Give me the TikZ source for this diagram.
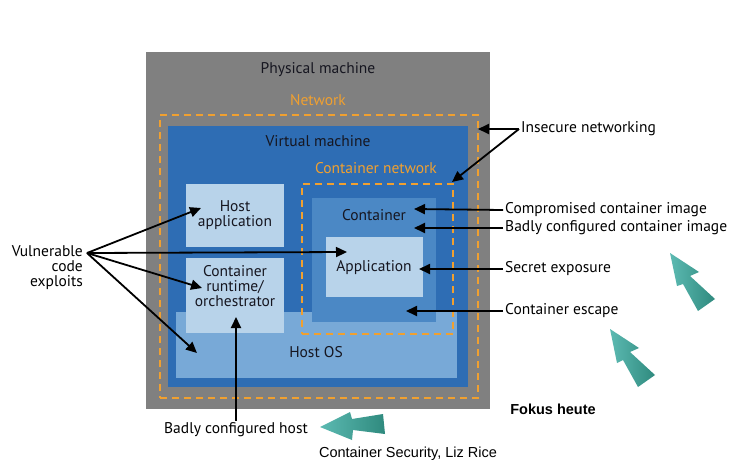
\documentclass[tikz,border=0pt]{standalone}
\usepackage{fontspec}
\setmainfont{PT Sans}
\newfontfamily\arialf{Liberation Sans}
\usetikzlibrary{arrows.meta}
\definecolor{phys}{HTML}{808080}
\definecolor{vmc}{HTML}{2E6DB4}
\definecolor{contc}{HTML}{4B88C5}
\definecolor{hostosc}{HTML}{78A9D7}
\definecolor{lightc}{HTML}{B8D3EA}
\definecolor{netc}{HTML}{F0A030}
\definecolor{txtc}{HTML}{161620}
\definecolor{tealA}{HTML}{5CBAB2}
\definecolor{tealB}{HTML}{2F8A7E}
\tikzset{
  box/.style={draw=none, inner sep=0pt, anchor=north west},
  netbox/.style={draw=netc, line width=1.8pt, dash pattern=on 7pt off 5pt, inner sep=0pt, anchor=north west},
  lbl/.style={font=\fontsize{15.5}{17}\selectfont, text=txtc, inner sep=1pt},
  netlbl/.style={font=\fontsize{15.5}{17}\selectfont, text=netc, inner sep=1pt},
  side/.style={font=\fontsize{15.5}{17}\selectfont, text=black, inner sep=2pt, anchor=west},
  arr/.style={line width=1.8pt, -{Triangle[length=11pt,width=10pt]}},
  tealarrow/.style={left color=tealA, right color=tealB, draw=none}
}
\begin{document}
\begin{tikzpicture}[x=1pt,y=-1pt]
\useasboundingbox[fill=white] (0,0) rectangle (738,466);
% boxes
\node[box, fill=phys, minimum width=344pt, minimum height=357pt] (phys) at (146,52) {};
\node[box, fill=vmc, minimum width=300pt, minimum height=261pt] (vm) at (168,126) {};
\node[netbox, minimum width=318pt, minimum height=283pt] (net) at (159,114) {};
\node[box, fill=hostosc, minimum width=281pt, minimum height=66pt] (hostos) at (176,312) {};
\node[box, fill=lightc, minimum width=98pt, minimum height=63pt] (hostapp) at (186,184) {};
\node[box, fill=lightc, minimum width=98pt, minimum height=75pt] (runtime) at (186,258) {};
\node[box, fill=contc, minimum width=124pt, minimum height=124pt] (cont) at (312,198) {};
\node[box, fill=lightc, minimum width=97pt, minimum height=60pt] (app) at (326,237) {};
\node[netbox, minimum width=151pt, minimum height=150pt] (cnet) at (301,183) {};
% box labels
\node[lbl] (lphys) at (318,70) {Physical machine};
\node[netlbl] (lnet) at (318,100) {Network};
\node[lbl] (lvm) at (318,141) {Virtual machine};
\node[netlbl] (lcnet) at (376,168) {Container network};
\node[lbl, align=center] (lhostapp) at (235,215) {Host\\[-2pt]application};
\node[lbl, align=center] (lruntime) at (235,286) {Container\\[-2pt]runtime/\\[-2pt]orchestrator};
\node[lbl] (lcont) at (374,215) {Container};
\node[lbl] (lapp) at (374,268) {Application};
\node[lbl] (lhostos) at (316,352) {Host OS};
% side labels
\node[side] (tins) at (519,129) {Insecure networking};
\node[side] (tcomp) at (503,210) {Compromised container image};
\node[side] (tbad) at (503,228) {Badly configured container image};
\node[side] (tsec) at (503,269) {Secret exposure};
\node[side] (tesc) at (503,311) {Container escape};
\node[side, anchor=east, align=right] (tvul) at (85,268) {Vulnerable\\[-2pt]code\\[-2pt]exploits};
\node[side, anchor=center] (thost) at (236,430) {Badly configured host};
\node[font=\arialf\bfseries\fontsize{14.5}{16}\selectfont, inner sep=0pt] (tfokus) at (553,409) {Fokus heute};
\node[font=\arialf\fontsize{14.5}{16}\selectfont, inner sep=0pt] (tsrc) at (408,454) {Container Security, Liz Rice};
% target coordinates
\coordinate (pins1) at (478,129);
\coordinate (pins2) at (452,182);
\coordinate (pcomp) at (414,209);
\coordinate (pbad) at (414,228);
\coordinate (psec) at (419,269);
\coordinate (pesc) at (406,311);
\coordinate (vo) at (87,253);
\coordinate (pv1) at (201,208);
\coordinate (pv2) at (347,252);
\coordinate (pv3) at (202,288);
\coordinate (pv4) at (197,353);
\coordinate (phost) at (236,317);
% arrows
\draw[arr] (tins.west) -- (pins1);
\draw[arr] (tins.west) -- (pins2);
\draw[arr] (tcomp.west) -- (pcomp);
\draw[arr] (tbad.west) -- (pbad);
\draw[arr] (tsec.west) -- (psec);
\draw[arr] (tesc.west) -- (pesc);
\draw[arr] (vo) -- (pv1);
\draw[arr] (vo) -- (pv2);
\draw[arr] (vo) -- (pv3);
\draw[arr] (vo) -- (pv4);
\draw[arr] (thost.north) -- (phost);
% teal block arrows
\shade[tealarrow] (320,427) -- (350,412) -- (352,419) -- (383,414) -- (385,434) -- (353,430) -- (352,440) -- cycle;
\shade[tealarrow] (670,253) -- (699,272) -- (690,276) -- (715,299) -- (698,311) -- (683,284) -- (677,286) -- cycle;
\shade[tealarrow] (610,329) -- (639,348) -- (630,352) -- (655,375) -- (638,387) -- (623,360) -- (617,363) -- cycle;
\end{tikzpicture}
\end{document}
